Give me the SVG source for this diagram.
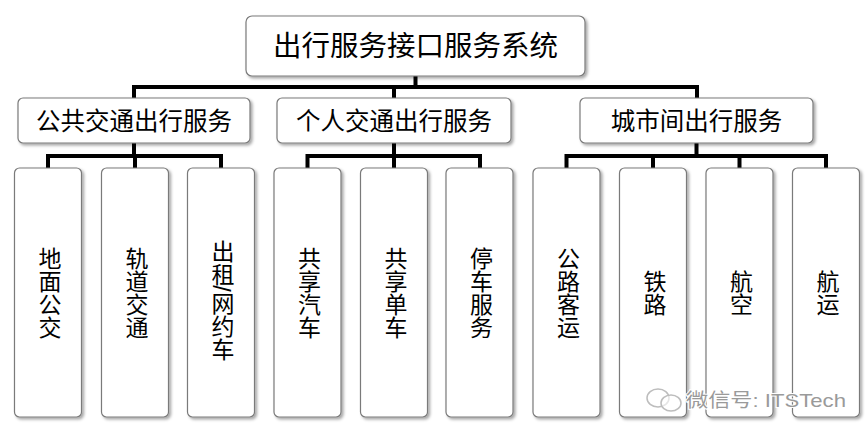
<svg xmlns="http://www.w3.org/2000/svg" width="868" height="438" viewBox="0 0 868 438">
<defs>
<filter id="sh" x="-20%" y="-20%" width="140%" height="140%">
<feDropShadow dx="2" dy="2" stdDeviation="1.5" flood-color="#000" flood-opacity="0.35"/>
</filter>
</defs>
<style>
.box{fill:#fff;stroke:#7a7a7a;stroke-width:1.2;filter:url(#sh)}
.t{font-family:"Liberation Sans","Noto Sans CJK SC",sans-serif;fill:#000;text-anchor:middle;dominant-baseline:central}
.v{font-family:"Liberation Sans","Noto Sans CJK SC",sans-serif;fill:#000;text-anchor:middle;writing-mode:vertical-rl;font-size:23px}
.c{fill:none;stroke:#000;stroke-width:4;stroke-linejoin:miter}
.wm{font-family:"Liberation Sans","Noto Sans CJK SC",sans-serif;fill:#9a9a9a;font-size:19px;stroke:#fff;stroke-width:2;paint-order:stroke}
</style>
<rect width="868" height="438" fill="#fff"/>
<g id="connectors">
<path class="c" d="M415.5,76 V87 M134,98 V87 H697 V98 M394,87 V98"/>
<path class="c" d="M134,143 V156 M48,168 V156 H221 V168 M135,156 V168"/>
<path class="c" d="M394,143 V168 M307.5,168 V156 H480 V168"/>
<path class="c" d="M696.5,143 V156 M566.5,168 V156 H826 V168 M653,156 V168 M739.5,156 V168"/>
</g>
<g id="root">
<rect class="box" x="246" y="16" width="339" height="60" rx="6"/>
<text class="t" x="415.5" y="46" font-size="28.5">出行服务接口服务系统</text>
</g>
<g id="public">
<rect class="box" x="18" y="98" width="232" height="45" rx="5"/>
<text class="t" x="134" y="121" font-size="24.5">公共交通出行服务</text>
</g>
<g id="personal">
<rect class="box" x="277" y="98" width="234" height="45" rx="5"/>
<text class="t" x="394" y="121" font-size="24.5">个人交通出行服务</text>
</g>
<g id="intercity">
<rect class="box" x="580" y="98" width="233" height="45" rx="5"/>
<text class="t" x="696.5" y="121" font-size="24.5">城市间出行服务</text>
</g>
<g id="leaf1"><rect class="box" x="14.5" y="168" width="67" height="249" rx="5"/><text class="v" x="48" y="292.5">地面公交</text></g>
<g id="leaf2"><rect class="box" x="101.5" y="168" width="67" height="249" rx="5"/><text class="v" x="135" y="292.5">轨道交通</text></g>
<g id="leaf3"><rect class="box" x="187.5" y="168" width="67" height="249" rx="5"/><text class="v" x="221" y="300">出租/网约车</text></g>
<g id="leaf4"><rect class="box" x="274" y="168" width="67" height="249" rx="5"/><text class="v" x="307.5" y="292.5">共享汽车</text></g>
<g id="leaf5"><rect class="box" x="360.5" y="168" width="67" height="249" rx="5"/><text class="v" x="394" y="292.5">共享单车</text></g>
<g id="leaf6"><rect class="box" x="446" y="168" width="67" height="249" rx="5"/><text class="v" x="479.5" y="292.5">停车服务</text></g>
<g id="leaf7"><rect class="box" x="533" y="168" width="67" height="249" rx="5"/><text class="v" x="566.5" y="292.5">公路客运</text></g>
<g id="leaf8"><rect class="box" x="619.5" y="168" width="67" height="249" rx="5"/><text class="v" x="653" y="292.5">铁路</text></g>
<g id="leaf9"><rect class="box" x="706" y="168" width="67" height="249" rx="5"/><text class="v" x="739.5" y="292.5">航空</text></g>
<g id="leaf10"><rect class="box" x="792.5" y="168" width="67" height="249" rx="5"/><text class="v" x="826" y="292.5">航运</text></g>
<g id="watermark">
<ellipse cx="658" cy="398" rx="11" ry="9" fill="none" stroke="#bdbdbd" stroke-width="1.5"/>
<ellipse cx="671" cy="403" rx="10" ry="8" fill="#fff" fill-opacity="0.6" stroke="#bdbdbd" stroke-width="1.5"/>
<text class="wm" x="686" y="407" textLength="160" lengthAdjust="spacingAndGlyphs">微信号: ITSTech</text>
</g>
</svg>
